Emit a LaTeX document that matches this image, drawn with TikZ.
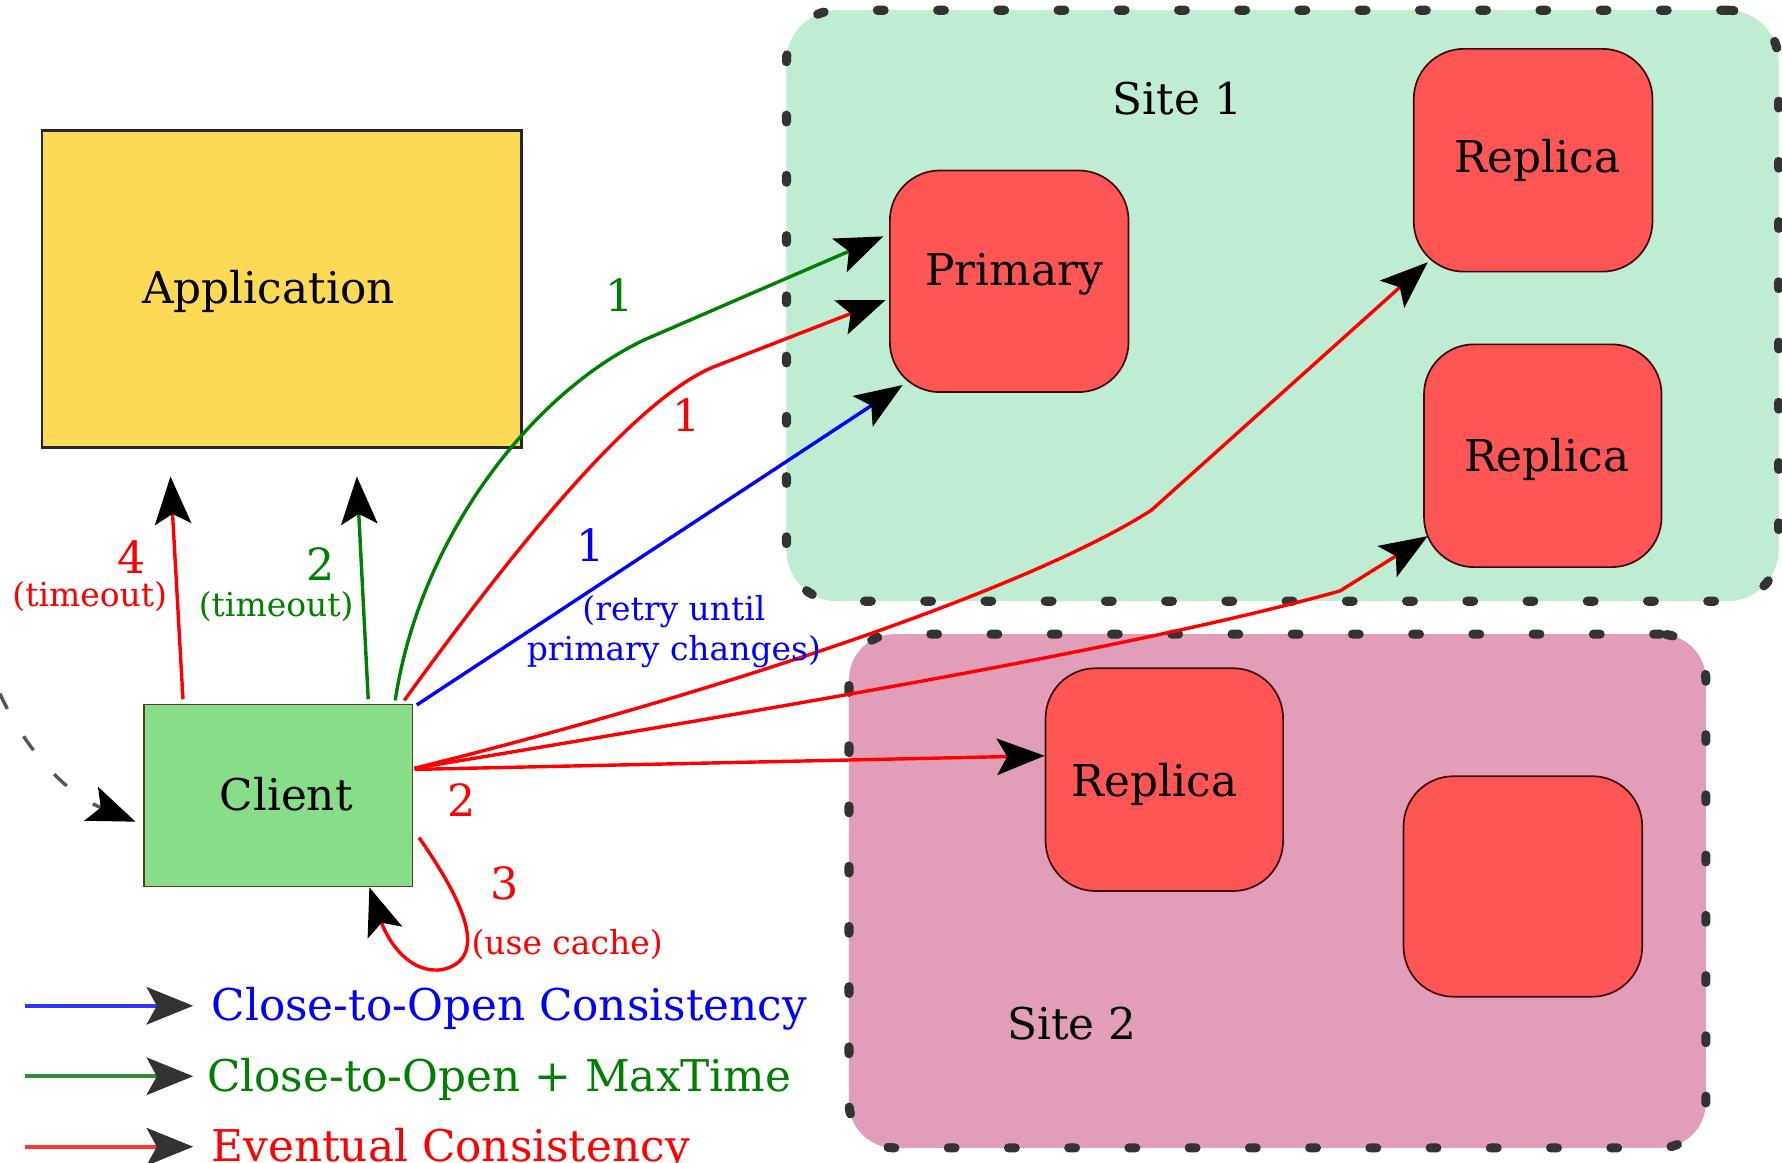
\documentclass[tikz,border=0pt]{standalone}
\usepackage{fontspec}
\setmainfont{DejaVu Serif}
\usetikzlibrary{arrows.meta,calc}

\definecolor{siteonefill}{RGB}{191,237,212}
\definecolor{sitetwofill}{RGB}{226,158,185}
\definecolor{boxred}{RGB}{255,85,85}
\definecolor{boxredline}{RGB}{60,10,10}
\definecolor{appfill}{RGB}{253,218,85}
\definecolor{clientfill}{RGB}{136,221,136}
\definecolor{clientline}{RGB}{90,60,30}
\definecolor{dashgray}{RGB}{51,51,51}
\definecolor{cgreen}{RGB}{0,128,0}
\definecolor{cred}{RGB}{255,0,0}
\definecolor{cblue}{RGB}{0,0,255}
\definecolor{lgblue}{RGB}{51,51,255}
\definecolor{lggreen}{RGB}{51,140,51}
\definecolor{lgred}{RGB}{255,51,51}
\definecolor{srcgray}{RGB}{85,85,85}

\begin{document}
\begin{tikzpicture}[x=1pt,y=-1pt,
  site/.style={draw=dashgray, line width=8pt, dash pattern=on 6pt off 47pt, line cap=round, rounded corners=45pt, inner sep=0pt},
  server/.style={draw=boxredline, fill=boxred, line width=1.5pt, rounded corners=44pt, inner sep=0pt, minimum width=210pt, minimum height=195pt},
  big/.style={font=\fontsize{38.5}{46}\selectfont, inner sep=0pt, anchor=base west},
  small/.style={font=\fontsize{29}{35}\selectfont, inner sep=0pt, align=center},
  digit/.style={font=\fontsize{39}{46}\selectfont, inner sep=0pt},
  conn/.style={line width=3pt, -{Stealth[length=42pt,width=32pt,inset=9pt,color=black]}},
  legendarrow/.style={line width=3.5pt, -{Stealth[length=41pt,width=33pt,inset=9pt,color=dashgray]}},
]
\useasboundingbox (0,0) rectangle (1568,1023);
\clip (0,0) rectangle (1568,1023);
\fill[white] (0,0) rectangle (1568,1023);

% sites
\node[site, fill=siteonefill, minimum width=873pt, minimum height=520pt] (site1) at (1128.5,269) {};
\node[site, fill=sitetwofill, minimum width=754pt, minimum height=452pt, rounded corners=40pt] (site2) at (1124,784) {};
\node[big] (site1T) at (979,100.5) {Site 1};
\node[big] (site2T) at (886,915) {Site 2};

% servers
\node[server] (primary) at (888,247.5) {};
\node[big] (primaryT) at (814,251) {Primary};
\node[server, minimum height=196pt] (rep1) at (1349,141) {};
\node[big] (rep1T) at (1280,152) {Replica};
\node[server, minimum width=209pt, minimum height=196pt] (rep2) at (1357.5,401) {};
\node[big] (rep2T) at (1288,415) {Replica};
\node[server, minimum width=209pt, minimum height=196pt] (rep3) at (1024.5,686) {};
\node[big] (rep3T) at (943,701) {Replica};
\node[server, minimum height=194pt] (rep4) at (1340,780) {};

% application and client
\node[draw=black!85, fill=appfill, line width=2.5pt, minimum width=422pt, minimum height=279pt, inner sep=0pt] (app) at (248,254.5) {};
\node[big] (appT) at (125,267) {Application};
\node[draw=clientline, fill=clientfill, line width=1.5pt, minimum width=236pt, minimum height=160pt, inner sep=0pt] (client) at (245,700) {};
\node[big] (clientT) at (193,713) {Client};

% incoming dashed arrow
\coordinate (src) at (-15,570);
\draw[srcgray, line width=3pt, dash pattern=on 15pt off 28pt, -{Stealth[length=42pt,width=32pt,inset=9pt,color=black]}]
  (src) .. controls (5,640) and (50,695) .. ($(client.west)+(-7,23)$);

% connectors
\draw[conn, cred] ($(client.north)+(-84,-4)$) -- ($(app.south)+(-98,24)$);
\draw[conn, cgreen] ($(client.north)+(79,-4)$) -- ($(app.south)+(66,24)$);
\draw[conn, cgreen] ($(client.north east)+(-16,-3)$) .. controls (370,470) and (470,345) .. (567,299) -- ($(primary.west)+(-5,-39.5)$);
\draw[conn, cred] ($(client.north east)+(-8,-3)$) .. controls (440,500) and (555,351) .. (630,322) -- ($(primary.west)+(-3,16.5)$);
\draw[conn, cblue] ($(client.north east)+(3,1)$) -- ($(primary.south west)+(12,-7)$);
\draw[conn, cred] ($(client.east)+(1,-24)$) .. controls (650,605) and (910,515) .. (1013,449) -- ($(rep1.south west)+(13,-9)$);
\draw[conn, cred] ($(client.east)+(1,-24)$) .. controls (700,620) and (1000,570) .. (1179,520) -- ($(rep2.south west)+(4,-28)$);
\draw[conn, cred] ($(client.east)+(1,-23)$) -- ($(rep3.west)+(0,-21)$);
\draw[conn, cred] ($(client.east)+(5,37)$) .. controls (402,785) and (434,842) .. (390,853) .. controls (362,858) and (342,830) .. ($(client.south)+(80,0)$);

% labels
\node[digit, text=cgreen] (lg1) at (545,260) {1};
\node[digit, text=cred] (lr1) at (604,365) {1};
\node[digit, text=cblue] (lb1) at (520,480) {1};
\node[small, text=cblue] (lretry) at (593,556) {(retry until\\primary changes)};
\node[digit, text=cred] (lr4) at (116,490) {4};
\node[small, text=cred] (lr4t) at (79,525) {(timeout)};
\node[digit, text=cgreen] (lg2) at (282,496) {2};
\node[small, text=cgreen] (lg2t) at (243,534) {(timeout)};
\node[digit, text=cred] (lr2) at (406,704) {2};
\node[digit, text=cred] (lr3) at (444,777) {3};
\node[small, text=cred] (lr3t) at (499,831) {(use cache)};

% legend
\coordinate (legA1) at (22,885);
\coordinate (legA2) at (170,885);
\coordinate (legB1) at (22,947);
\coordinate (legB2) at (170,947);
\coordinate (legC1) at (22,1009);
\coordinate (legC2) at (170,1009);
\draw[legendarrow, lgblue] (legA1) -- (legA2);
\draw[legendarrow, lggreen] (legB1) -- (legB2);
\draw[legendarrow, lgred] (legC1) -- (legC2);
\node[big, text=cblue] (legAT) at (186,897.5) {Close-to-Open Consistency};
\node[big, text=cgreen] (legBT) at (182,960.5) {Close-to-Open + MaxTime};
\node[big, text=cred] (legCT) at (186,1022) {Eventual Consistency};
\end{tikzpicture}
\end{document}
